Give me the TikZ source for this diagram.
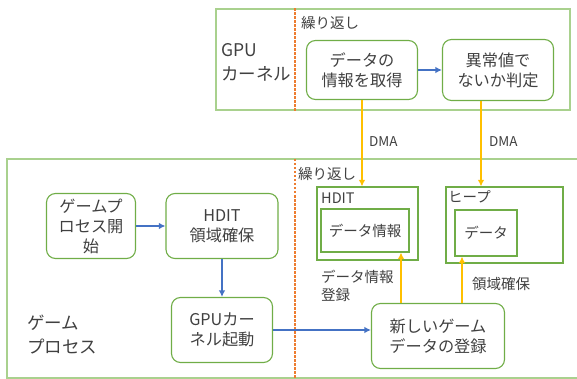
\documentclass[tikz,border=0pt]{standalone}
\usepackage{fontspec}
\setmainfont{Noto Sans CJK JP}
\usetikzlibrary{positioning,arrows.meta,calc}
\definecolor{nodegreen}{RGB}{112,173,71}
\definecolor{framegreen}{RGB}{169,209,142}
\definecolor{flowblue}{RGB}{68,114,196}
\definecolor{dmayellow}{RGB}{255,192,0}
\definecolor{looporange}{RGB}{237,125,49}
\definecolor{txtgray}{RGB}{64,64,64}

\begin{document}
\begin{tikzpicture}[
      x=1pt, y=-1pt,
      >={Latex[length=6.5pt,width=6.5pt]},
      text=txtgray
    ]
    \useasboundingbox (0,0) rectangle (577,379);

    \tikzstyle{box} = [rectangle, rounded corners=9pt, draw=nodegreen, line width=1.1pt, align=center, inner sep=0pt, font=\fontsize{16.2}{20}\selectfont]
    \tikzstyle{area} = [rectangle, draw=nodegreen, line width=1.1pt, inner sep=0pt]
    \tikzstyle{frame} = [draw=framegreen, line width=1.4pt]
    \tikzstyle{loopline} = [draw=looporange, line width=1.2pt, dash pattern=on 2.5pt off 1.5pt]
    \tikzstyle{flow} = [draw=flowblue, line width=2.2pt, ->]
    \tikzstyle{dma} = [draw=dmayellow, line width=2.2pt, ->]
    \tikzstyle{biglabel} = [anchor=west, align=left, inner sep=0pt, font=\fontsize{17.5}{24}\selectfont]
    \tikzstyle{smalllabel} = [anchor=west, align=left, inner sep=0pt, font=\fontsize{14.5}{18}\selectfont]

    % GPU kernel
    \node [frame, rectangle, inner sep=0pt, minimum width=354pt, minimum height=101pt] (gpu) at (393,59.5) {};
    \node [biglabel] (gpuLabel) at (221,62) {GPU\\カーネル};
    \node [smalllabel] (gpuLoop) at (301,23) {繰り返し};
    \node [box, minimum width=111pt, minimum height=59pt] (getInfo) at (362,70) {データの\\情報を取得};
    \node [box, minimum width=111pt, minimum height=61pt] (check) at (498,70) {異常値で\\ないか判定};

    % game process
    \coordinate (gameTL) at (7,159);
    \coordinate (gameBR) at (577,378);
    \coordinate (loopX) at (295,0);
    \node [biglabel] (gameLabel) at (27,335) {ゲーム\\プロセス};
    \node [smalllabel] (gameLoop) at (298,174) {繰り返し};
    \node [box, minimum width=89pt, minimum height=65pt] (start) at (91,226) {ゲームプ\\ロセス開\\始};
    \node [box, minimum width=112pt, minimum height=65pt] (hditAlloc) at (222,226) {HDIT\\領域確保};
    \node [box, minimum width=101pt, minimum height=65pt] (launch) at (222,330) {GPUカー\\ネル起動};
    \node [box, minimum width=133pt, minimum height=65pt] (register) at (438,336) {新しいゲーム\\データの登録};

    \node [area, minimum width=101pt, minimum height=73pt] (hdit) at (367.5,223.5) {};
    \node [smalllabel] (hditLabel) at (321,198.5) {HDIT};
    \node [area, minimum width=88pt, minimum height=43pt, font=\fontsize{14.5}{18}\selectfont] (info) at (365,230.5) {データ情報};
    \node [area, minimum width=117pt, minimum height=76pt] (heap) at (504.5,225) {};
    \node [smalllabel] (heapLabel) at (448,197) {ヒープ};
    \node [area, minimum width=62pt, minimum height=46pt, font=\fontsize{14.5}{18}\selectfont] (data) at (486,233) {データ};

    \node [smalllabel] (infoReg) at (321,286) {データ情報\\登録};
    \node [smalllabel] (areaReg) at (472,284) {領域確保};

    \draw [frame] (gameBR |- gameTL) -- (gameTL) |- (gameBR);
    \draw [loopline] (loopX |- gpu.north) -- (loopX |- gpu.south);
    \draw [loopline] (loopX |- gameTL) -- (loopX |- gameBR);

    \draw [flow] (getInfo) -- (check);
    \draw [flow] (start) -- (hditAlloc);
    \draw [flow] (hditAlloc) -- (launch);
    \draw [flow] (launch.east) -- (launch.east -| register.west);

    % DMA
    \coordinate (dmaTwo) at (481,0);
    \draw [dma] (getInfo.south) -- (getInfo.south |- hdit.north) node[pos=0.48, right, inner sep=0pt, xshift=6pt, font=\fontsize{13.5}{14}\selectfont] {DMA};
    \draw [dma] (dmaTwo |- check.south) -- (dmaTwo |- heap.north) node[pos=0.48, right, inner sep=0pt, xshift=7pt, font=\fontsize{13.5}{14}\selectfont] {DMA};
    \draw [dma] ([xshift=-37pt]register.north) -- ([xshift=-37pt]register.north |- info.south);
    \draw [dma] ([xshift=24pt]register.north) -- ([xshift=24pt]register.north |- data.south);

\end{tikzpicture}
\end{document}
